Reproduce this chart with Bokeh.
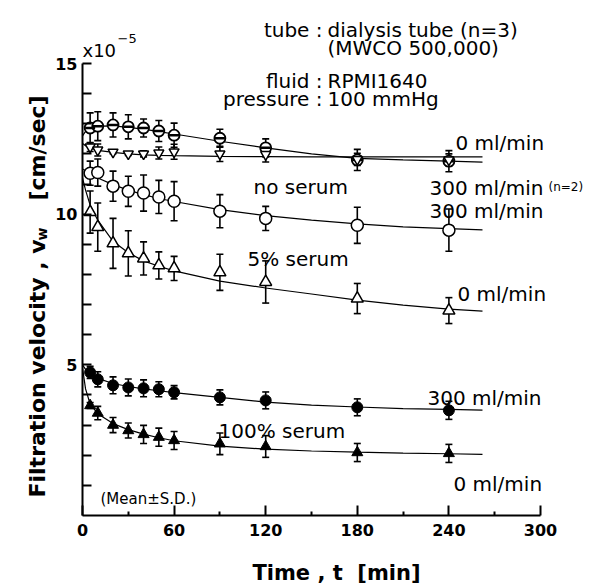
import math
from bokeh.plotting import figure
from bokeh.models import Label, Whisker, TeeHead, ColumnDataSource, FixedTicker, Range1d
from bokeh.embed import file_html
from bokeh.resources import INLINE

# ---------------- data ----------------
t = [5, 10, 20, 30, 40, 50, 60, 90, 120, 180, 240]

# no serum, 0 ml/min
ns0 = [12.86, 12.92, 12.96, 12.90, 12.86, 12.76, 12.62, 12.52, 12.20, 11.80, 11.76]
ns0_sd = [0.50, 0.48, 0.40, 0.40, 0.30, 0.35, 0.40, 0.30, 0.30, 0.35, 0.35]
# no serum, 300 ml/min (n=2)
ns300b = [12.23, 12.13, 12.06, 12.00, 12.00, 12.03, 12.07, 12.00, 11.98, 11.82, 11.80]
ns300b_sd = [0.15, 0.20, 0.05, 0.05, 0.10, 0.20, 0.25, 0.25, 0.25, 0.20, 0.20]
# no serum, 300 ml/min
ns300 = [11.36, 11.38, 10.93, 10.76, 10.70, 10.57, 10.43, 10.10, 9.86, 9.63, 9.47]
ns300_sd = [0.40, 0.45, 0.50, 0.50, 0.60, 0.55, 0.65, 0.55, 0.40, 0.60, 0.70]
# 5% serum, 0 ml/min
s5_0 = [10.07, 9.57, 9.03, 8.70, 8.53, 8.30, 8.20, 8.07, 7.75, 7.20, 6.80]
s5_0_sd = [0.70, 0.80, 0.83, 0.75, 0.55, 0.45, 0.40, 0.60, 0.70, 0.50, 0.43]
# 100% serum, 300 ml/min
s100_300 = [4.75, 4.52, 4.32, 4.25, 4.22, 4.19, 4.09, 3.92, 3.82, 3.59, 3.49]
s100_300_sd = [0.20, 0.25, 0.28, 0.28, 0.28, 0.25, 0.22, 0.25, 0.28, 0.28, 0.30]
# 100% serum, 0 ml/min
s100_0 = [3.65, 3.40, 3.00, 2.82, 2.69, 2.60, 2.49, 2.38, 2.29, 2.09, 2.06]
s100_0_sd = [0.10, 0.22, 0.25, 0.25, 0.30, 0.30, 0.30, 0.36, 0.36, 0.30, 0.30]

# fitted curves
fit_t = [0, 2, 5, 10, 20, 30, 40, 50, 60, 90, 120, 150, 180, 210, 240, 262]
fit_ns0 = [12.60, 12.75, 12.86, 12.92, 12.93, 12.88, 12.82, 12.74, 12.66, 12.42, 12.20, 12.00, 11.85, 11.80, 11.76, 11.73]
fit_ns300b = [12.35, 12.27, 12.20, 12.12, 12.05, 12.00, 11.97, 11.95, 11.94, 11.92, 11.91, 11.90, 11.90, 11.90, 11.90, 11.90]
fit_ns300 = [11.50, 11.45, 11.35, 11.20, 10.98, 10.80, 10.65, 10.52, 10.42, 10.15, 9.95, 9.80, 9.68, 9.58, 9.52, 9.48]
fit_s5_0 = [11.20, 10.80, 10.30, 9.80, 9.10, 8.72, 8.45, 8.27, 8.12, 7.78, 7.55, 7.35, 7.15, 6.98, 6.85, 6.78]
fit_s100_300 = [5.00, 4.85, 4.72, 4.55, 4.38, 4.28, 4.20, 4.14, 4.08, 3.92, 3.76, 3.66, 3.60, 3.55, 3.52, 3.50]
fit_s100_0 = [4.90, 4.20, 3.70, 3.38, 3.05, 2.85, 2.70, 2.58, 2.48, 2.30, 2.20, 2.14, 2.10, 2.07, 2.05, 2.03]

x_ticks = [0, 60, 120, 180, 240, 300]
x_minor = [30, 90, 150, 210, 270]
y_ticks = [5, 10, 15]
y_minor = [1, 2, 3, 4, 6, 7, 8, 9, 11, 12, 13, 14]

# ---------------- figure ----------------
FONT = "DejaVu Sans"
W, H = 590, 584
X0, Y0 = 82.0, 515.0           # pixel position of the data origin
XS = 458.0 / 300.0             # pixels per minute
YS = 452.0 / 15.0              # pixels per unit of velocity

p = figure(width=W, height=H,
           x_range=Range1d(-X0 / XS, (W - X0) / XS),
           y_range=Range1d((Y0 - H) / YS, Y0 / YS),
           output_backend="svg", toolbar_location=None, min_border=0)
p.outline_line_color = None
p.grid.visible = False
p.background_fill_color = "white"

for ax in (p.xaxis[0], p.yaxis[0]):
    ax.fixed_location = 0
    ax.axis_line_width = 2
    ax.major_tick_line_width = 2
    ax.minor_tick_line_width = 2
    ax.major_tick_out = 0
    ax.minor_tick_out = 0
    ax.major_label_text_font = FONT
    ax.major_label_text_font_style = "bold"
    ax.major_label_text_font_size = "16px"
    ax.major_label_text_color = "black"

p.xaxis.bounds = (0, 300)
p.yaxis.bounds = (0, 15)
p.xaxis.ticker = FixedTicker(ticks=x_ticks, minor_ticks=x_minor)
p.xaxis.major_tick_in = 10
p.xaxis.minor_tick_in = 4
p.xaxis.major_label_standoff = 8
p.yaxis.ticker = FixedTicker(ticks=y_ticks, minor_ticks=y_minor)
p.yaxis.major_tick_in = 9
p.yaxis.minor_tick_in = 9
p.yaxis.major_label_standoff = 5

series = [
    (ns0, ns0_sd), (ns300b, ns300b_sd), (ns300, ns300_sd),
    (s5_0, s5_0_sd), (s100_300, s100_300_sd), (s100_0, s100_0_sd),
]
fits = [fit_ns0, fit_ns300b, fit_ns300, fit_s5_0, fit_s100_300, fit_s100_0]

for f in fits:
    p.line(fit_t, f, line_color="black", line_width=1.2)

for vals, sd in series:
    src = ColumnDataSource(dict(t=t, lower=[v - s for v, s in zip(vals, sd)],
                                upper=[v + s for v, s in zip(vals, sd)]))
    w = Whisker(base="t", lower="lower", upper="upper", source=src,
                line_color="black", line_width=1.6,
                upper_head=TeeHead(size=7, line_width=1.6, line_color="black"),
                lower_head=TeeHead(size=7, line_width=1.6, line_color="black"))
    p.add_layout(w)

# markers
p.scatter(t, ns0, marker="circle", size=11, fill_color="white", line_color="black", line_width=1.8)
p.scatter(t, ns0, marker="dash", size=10, line_color="black", line_width=2.5)
p.scatter(t, ns300b, marker="inverted_triangle", size=10, fill_color="white", line_color="black", line_width=1.5)
p.scatter(t, ns300, marker="circle", size=12, fill_color="white", line_color="black", line_width=1.5)
p.scatter(t, s5_0, marker="triangle", size=12, fill_color="white", line_color="black", line_width=1.5)
p.scatter(t, s100_300, marker="circle", size=11, fill_color="black", line_color="black")
p.scatter(t, s100_0, marker="triangle", size=11, fill_color="black", line_color="black")


# ---------------- text ----------------
def lab(text, px, py, size, bold=False, align="left", angle=0.0):
    p.add_layout(Label(x=(px - X0) / XS, y=(Y0 - py) / YS, text=text,
                       text_font=FONT, text_font_size=f"{size}px",
                       text_font_style="bold" if bold else "normal",
                       text_align=align, text_baseline="alphabetic",
                       text_color="black", angle=angle))


lab("tube :", 322, 29, 20, align="right")
lab("dialysis tube (n=3)", 327, 29, 20)
lab("(MWCO 500,000)", 327, 47, 20)
lab("fluid :", 322, 80, 20, align="right")
lab("RPMI1640", 327, 80, 20)
lab("pressure :", 322, 98, 20, align="right")
lab("100 mmHg", 327, 98, 20)

lab("0 ml/min", 455, 142, 20)
lab("no serum", 253, 186, 20)
lab("300 ml/min", 429, 187, 20)
lab("(n=2)", 548, 186, 12)
lab("300 ml/min", 429, 210, 20)
lab("5% serum", 247, 258, 20)
lab("0 ml/min", 457, 293, 20)
lab("300 ml/min", 427, 397, 20)
lab("100% serum", 218, 430, 20)
lab("0 ml/min", 453, 483, 20)
lab("(Mean\u00b1S.D.)", 100, 498, 15)

lab("x10", 82, 50, 18)
lab("\u22125", 117, 38, 13)

lab("Time , t\u00a0\u00a0[min]", 336, 572, 21, bold=True, align="center")

# y axis label, rotated
A = math.pi / 2
lab("Filtration velocity , v", 37, 497, 22, bold=True, angle=A)
lab("w", 41, 240, 14, bold=True, angle=A)
lab("[cm/sec]", 37, 200, 22, bold=True, angle=A)

open("out.html", "w").write(file_html(p, INLINE))
